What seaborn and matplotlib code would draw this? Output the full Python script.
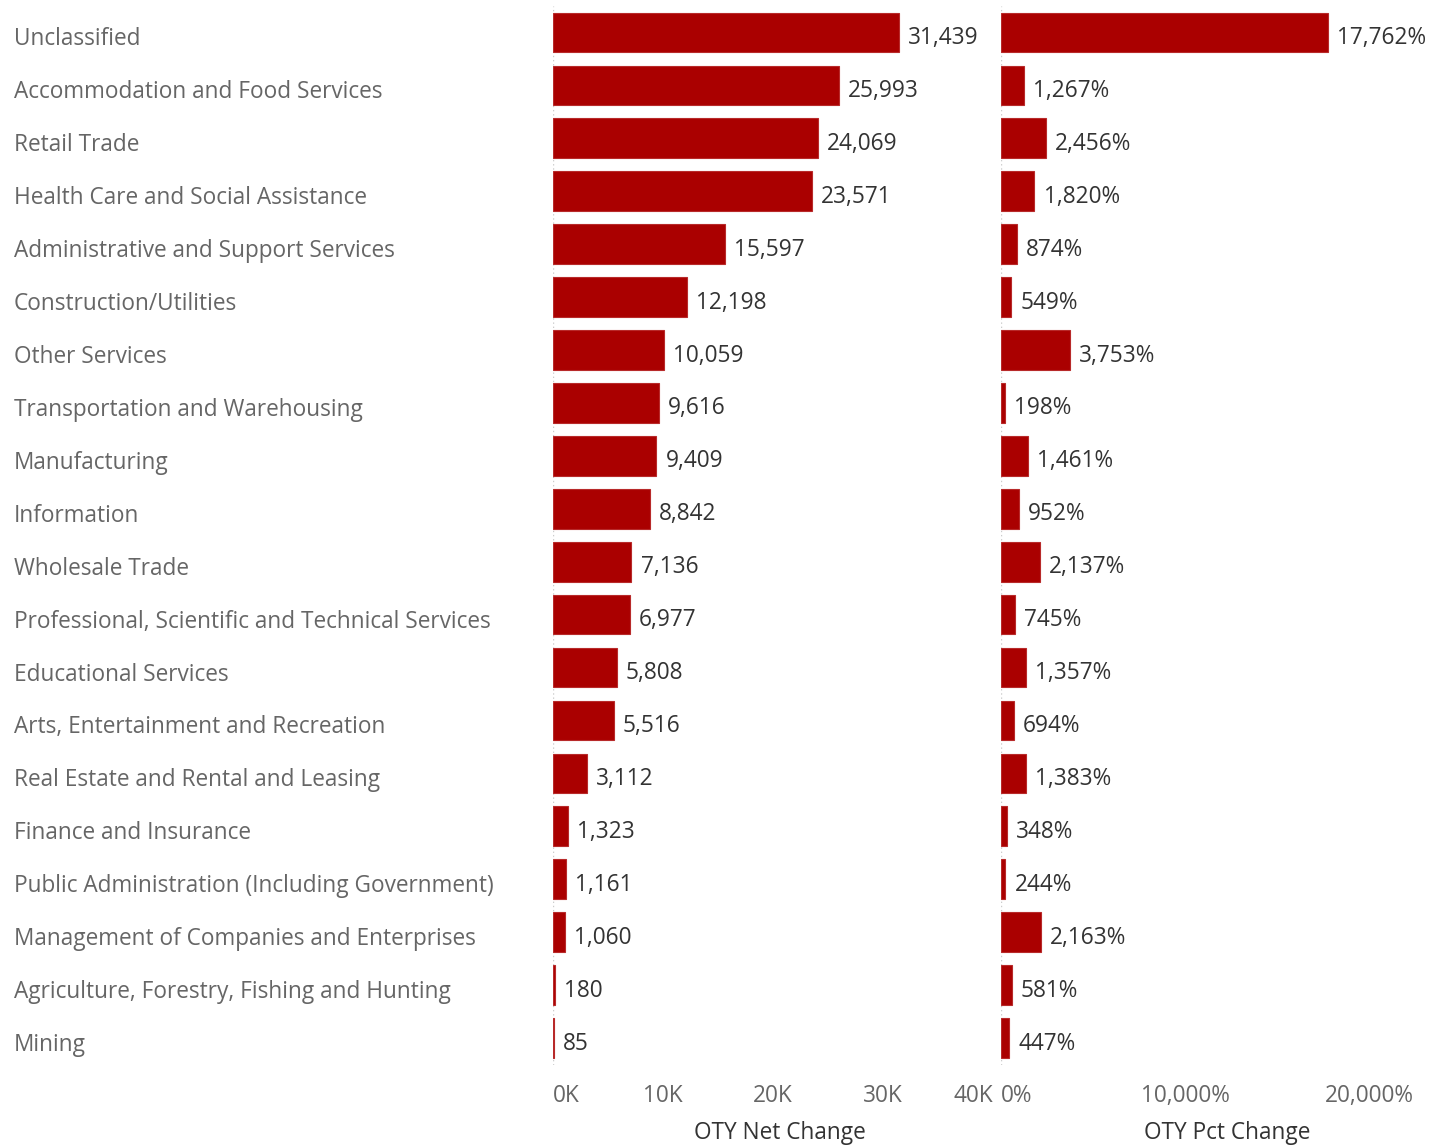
import numpy as np
import pandas as pd
import seaborn as sns
import matplotlib
matplotlib.use("Agg")
import matplotlib.pyplot as plt
from matplotlib.transforms import ScaledTranslation

industries = [
    "Unclassified",
    "Accommodation and Food Services",
    "Retail Trade",
    "Health Care and Social Assistance",
    "Administrative and Support Services",
    "Construction/Utilities",
    "Other Services",
    "Transportation and Warehousing",
    "Manufacturing",
    "Information",
    "Wholesale Trade",
    "Professional, Scientific and Technical Services",
    "Educational Services",
    "Arts, Entertainment and Recreation",
    "Real Estate and Rental and Leasing",
    "Finance and Insurance",
    "Public Administration (Including Government)",
    "Management of Companies and Enterprises",
    "Agriculture, Forestry, Fishing and Hunting",
    "Mining",
]
net_change = [31439, 25993, 24069, 23571, 15597, 12198, 10059, 9616, 9409, 8842,
              7136, 6977, 5808, 5516, 3112, 1323, 1161, 1060, 180, 85]
pct_change = [17762, 1267, 2456, 1820, 874, 549, 3753, 198, 1461, 952,
              2137, 745, 1357, 694, 1383, 348, 244, 2163, 581, 447]

net_ticks = [0, 10000, 20000, 30000, 40000]
net_tick_labels = ["0K", "10K", "20K", "30K", "40K"]
pct_ticks = [0, 10000, 20000]
pct_tick_labels = ["0%", "10,000%", "20,000%"]

df = pd.DataFrame({"industry": industries, "net": net_change, "pct": pct_change})

sns.set_theme(style="white")
plt.rcParams['font.family'] = ['Open Sans', 'DejaVu Sans']

bar_color = "#AA0000"
label_grey = "#666666"
text_dark = "#333333"
fsize = 16.3

fig = plt.figure(figsize=(14.31, 11.47), dpi=100)
ax1 = fig.add_axes([553 / 1431, 1 - 1064.5 / 1147, 440 / 1431, 1058.5 / 1147])
ax2 = fig.add_axes([1001 / 1431, 1 - 1064.5 / 1147, 430 / 1431, 1058.5 / 1147])

sns.barplot(data=df, x="net", y="industry", orient="h", color=bar_color,
            width=0.75, saturation=1, edgecolor="#b82a2a", linewidth=0.8, ax=ax1)
sns.barplot(data=df, x="pct", y="industry", orient="h", color=bar_color,
            width=0.75, saturation=1, edgecolor="#b82a2a", linewidth=0.8, ax=ax2)

ax1.set_xlim(0, 40000)
ax2.set_xlim(0, 430 / 184 * 10000)

for ax in (ax1, ax2):
    for s in ax.spines.values():
        s.set_visible(False)
    ax.axvline(0, color="#cccccc", ls=(0, (1, 2)), lw=1, zorder=0)
    ax.tick_params(axis="x", colors="#dddddd", length=5, width=1, direction="out",
                   labelcolor=label_grey, labelsize=fsize, pad=9)
    ax.set_ylabel("")
    ax.grid(False)

ax1.set_xticks(net_ticks)
ax1.set_xticklabels(net_tick_labels)
ax1.get_xticklabels()[0].set_ha("left")
ax1.get_xticklabels()[-1].set_ha("right")
ax2.set_xticks(pct_ticks)
ax2.set_xticklabels(pct_tick_labels)
ax2.get_xticklabels()[0].set_ha("left")

ax1.set_xlabel("OTY Net Change", fontsize=fsize, color=text_dark)
ax2.set_xlabel("OTY Pct Change", fontsize=fsize, color=text_dark)
ax2.xaxis.set_label_coords((1227 - 1001) / 430, -0.053)
ax1.xaxis.set_label_coords((780 - 553) / 440, -0.053)

# category labels on the far left, nudged down a bit like tableau
ax1.tick_params(axis="y", length=0, pad=539 / 100 * 72, labelsize=fsize,
                labelcolor=label_grey)
shift = ScaledTranslation(0, -4 / 100, fig.dpi_scale_trans)
for t in ax1.get_yticklabels():
    t.set_ha("left")
    t.set_transform(t.get_transform() + shift)
ax2.set_yticks([])

for i, v in enumerate(net_change):
    ax1.annotate(f"{v:,}", (v, i), xytext=(6.5, -4), textcoords="offset points",
                 va="center", ha="left", fontsize=fsize, color=text_dark)
for i, v in enumerate(pct_change):
    ax2.annotate(f"{v:,}%", (v, i), xytext=(6.5, -4), textcoords="offset points",
                 va="center", ha="left", fontsize=fsize, color=text_dark)

fig.savefig("out.png", dpi=100)
